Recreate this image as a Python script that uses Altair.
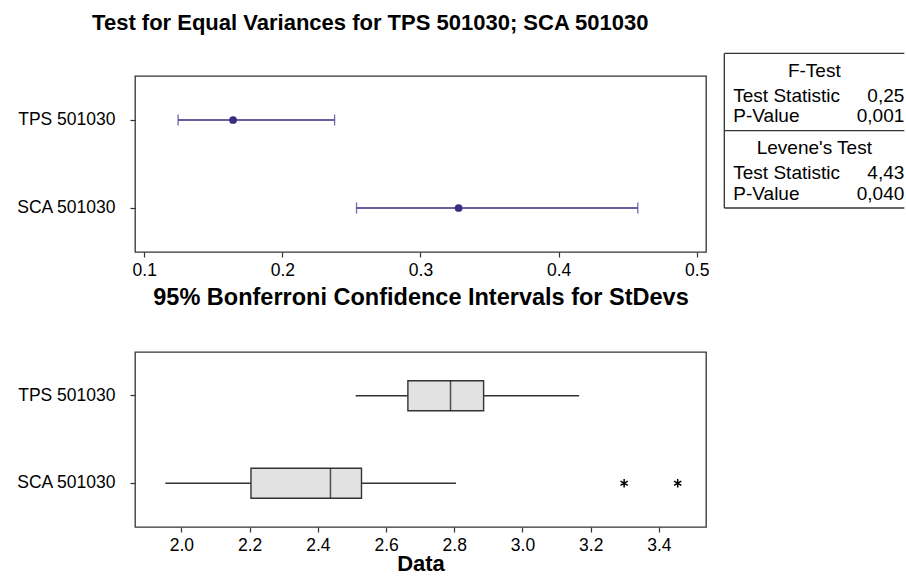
import altair as alt
import pandas as pd

# ---------------- data ----------------
groups = ["TPS 501030", "SCA 501030"]

# 95% Bonferroni confidence intervals for StDevs
ci_lower = [0.1245, 0.2537]
ci_sigma = [0.1643, 0.3276]
ci_upper = [0.2378, 0.4573]

# boxplot summaries of the data
whisker_low = [2.511, 1.953]
box_q1 = [2.664, 2.204]
box_median = [2.789, 2.437]
box_q3 = [2.886, 2.528]
whisker_high = [3.166, 2.805]
outlier_group = ["SCA 501030", "SCA 501030"]
outlier_value = [3.298, 3.455]

# test results table
test_names = ["F-Test", "Levene's Test"]
stat_labels = ["Test Statistic", "P-Value"]
ftest_values = ["0,25", "0,001"]
levene_values = ["4,43", "0,040"]

top_ticks = [0.1, 0.2, 0.3, 0.4, 0.5]
bottom_ticks = [2.0, 2.2, 2.4, 2.6, 2.8, 3.0, 3.2, 3.4]

# ---------------- style ----------------
FONT = "Liberation Sans"
FRAME = "#333333"
INTERVAL = "#3b2c80"
PANEL_W = 571

ci_df = pd.DataFrame({"group": groups, "lower": ci_lower, "sigma": ci_sigma, "upper": ci_upper})
box_df = pd.DataFrame({"group": groups, "wlow": whisker_low, "q1": box_q1,
                       "med": box_median, "q3": box_q3, "whigh": whisker_high})
out_df = pd.DataFrame({"group": outlier_group, "value": outlier_value})


def y_enc():
    return alt.Y("group:N", sort=groups,
                 scale=alt.Scale(type="band", paddingInner=0, paddingOuter=0),
                 axis=alt.Axis(title=None, labelPadding=15))


def x_top(field):
    return alt.X(f"{field}:Q",
                 scale=alt.Scale(domain=[0.0933, 0.5067], nice=False, zero=False),
                 axis=alt.Axis(values=top_ticks, format=".1f", labelFlush=False,
                               title="95% Bonferroni Confidence Intervals for StDevs",
                               titleFontSize=23.5, labelPadding=4, titlePadding=7))


def x_bot(field):
    return alt.X(f"{field}:Q",
                 scale=alt.Scale(domain=[1.864, 3.538], nice=False, zero=False),
                 axis=alt.Axis(values=bottom_ticks, format=".1f", labelFlush=False,
                               title="Data", labelPadding=4, titlePadding=0))


frame_view = alt.ViewBackground(stroke=FRAME, strokeWidth=1.3)

# ---------------- top panel: confidence intervals ----------------
ci_rule = alt.Chart().mark_rule(color=INTERVAL, strokeWidth=1.3).encode(
    x=x_top("lower"), x2="upper:Q", y=y_enc())
ci_lo = alt.Chart().mark_tick(color=INTERVAL, thickness=1.3, size=11).encode(
    x=x_top("lower"), y=y_enc())
ci_hi = alt.Chart().mark_tick(color=INTERVAL, thickness=1.3, size=11).encode(
    x=x_top("upper"), y=y_enc())
ci_dot = alt.Chart().mark_circle(color=INTERVAL, size=60, opacity=1).encode(
    x=x_top("sigma"), y=y_enc())
ci_layer = alt.layer(ci_rule, ci_lo, ci_hi, ci_dot, data=ci_df)

# ---------------- test table (placed to the right of the top panel) ----------------
ROW_POS = [0.23, 0.545, 0.815]  # header, first stat, second stat within a section
head_rows, lab_rows, val_rows = [], [], []
for s, (name, vals) in enumerate(zip(test_names, [ftest_values, levene_values])):
    head_rows.append({"text": name, "x": 0.5, "y": s + ROW_POS[0]})
    for k, (lab, val) in enumerate(zip(stat_labels, vals)):
        lab_rows.append({"text": lab, "x": 0.0, "y": s + ROW_POS[k + 1]})
        val_rows.append({"text": val, "x": 1.0, "y": s + ROW_POS[k + 1]})

# table coordinate frame: x 0..1 spans the table width, y 0..2 spans its two sections
tx = alt.Scale(domain=[-3.2739, -0.1017], nice=False, zero=False)
ty = alt.Scale(domain=[0.2924, 2.5692], nice=False, zero=False, reverse=True)

hlines = pd.DataFrame({"y": [0, 1, 2], "x0": [0, 0, 0], "x1": [1, 1, 1]})
vline = pd.DataFrame({"x": [0], "y0": [0], "y1": [2]})

t_h = alt.Chart(hlines).mark_rule(color=FRAME, strokeWidth=1.3).encode(
    x=alt.X("x0:Q", scale=tx, axis=None), x2="x1:Q",
    y=alt.Y("y:Q", scale=ty, axis=None))
t_v = alt.Chart(vline).mark_rule(color=FRAME, strokeWidth=1.3).encode(
    x=alt.X("x:Q", scale=tx, axis=None),
    y=alt.Y("y0:Q", scale=ty, axis=None), y2="y1:Q")
t_head = alt.Chart(pd.DataFrame(head_rows)).mark_text(
    font=FONT, fontSize=19, align="center", baseline="middle", color="#000").encode(
    x=alt.X("x:Q", scale=tx, axis=None), y=alt.Y("y:Q", scale=ty, axis=None), text="text:N")
t_lab = alt.Chart(pd.DataFrame(lab_rows)).mark_text(
    font=FONT, fontSize=19, align="left", baseline="middle", dx=9, color="#000").encode(
    x=alt.X("x:Q", scale=tx, axis=None), y=alt.Y("y:Q", scale=ty, axis=None), text="text:N")
t_val = alt.Chart(pd.DataFrame(val_rows)).mark_text(
    font=FONT, fontSize=19, align="right", baseline="middle", color="#000").encode(
    x=alt.X("x:Q", scale=tx, axis=None), y=alt.Y("y:Q", scale=ty, axis=None), text="text:N")
table = alt.layer(t_h, t_v, t_head, t_lab, t_val)

top = alt.layer(ci_layer, table).resolve_scale(
    x="independent", y="independent"
).properties(width=PANEL_W, height=176, view=frame_view)

# ---------------- bottom panel: boxplots ----------------
w_lo = alt.Chart(box_df).mark_rule(color=FRAME, strokeWidth=1.6).encode(
    x=x_bot("wlow"), x2="q1:Q", y=y_enc())
w_hi = alt.Chart(box_df).mark_rule(color=FRAME, strokeWidth=1.6).encode(
    x=x_bot("q3"), x2="whigh:Q", y=y_enc())
box = alt.Chart(box_df).mark_bar(size=30, fill="#e2e2e2", stroke=FRAME, strokeWidth=1.4).encode(
    x=x_bot("q1"), x2="q3:Q", y=y_enc())
med = alt.Chart(box_df).mark_tick(size=30, thickness=1.5, color="#111111").encode(
    x=x_bot("med"), y=y_enc())
ASTERISK = "M0,-1L0,1M-0.87,-0.5L0.87,0.5M-0.87,0.5L0.87,-0.5"
outl = alt.Chart(out_df).mark_point(shape=ASTERISK, size=70, filled=False,
                                    color="#000000", strokeWidth=1.5, opacity=1).encode(
    x=x_bot("value"), y=y_enc())

bottom = alt.layer(w_lo, w_hi, box, med, outl).properties(
    width=PANEL_W, height=175, view=frame_view)

chart = alt.vconcat(
    top, bottom, spacing=41,
    title=alt.TitleParams("Test for Equal Variances for TPS 501030; SCA 501030",
                          anchor="start", dx=77, offset=17),
).properties(
    padding={"left": 15, "top": 12, "right": 0, "bottom": 4},
    background="white",
).configure_axis(
    labelFont=FONT, labelFontSize=17.5, labelColor="#000000",
    titleFont=FONT, titleFontSize=22, titleFontWeight="bold", titleColor="#000000",
    tickColor=FRAME, tickSize=5, tickWidth=1.2, domain=False, grid=False,
).configure_title(
    font=FONT, fontSize=22, fontWeight="bold", color="#000000",
)

chart.save("out.html", embed_options={"renderer": "svg", "actions": False})
